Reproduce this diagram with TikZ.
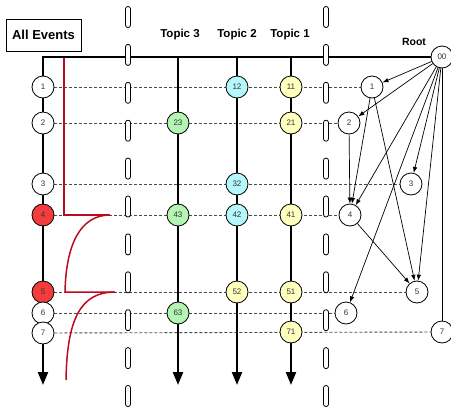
\documentclass[tikz,border=0pt]{standalone}
\usepackage{fontspec}
\setmainfont{Liberation Sans}
\usetikzlibrary{arrows.meta,backgrounds}
\definecolor{nred}{RGB}{245,60,60}
\definecolor{ncyan}{RGB}{180,248,252}
\definecolor{nyel}{RGB}{255,255,190}
\definecolor{ngreen}{RGB}{180,245,180}
\definecolor{redline}{RGB}{190,10,30}
\definecolor{dashgray}{RGB}{75,75,75}
\begin{document}
\begin{tikzpicture}[x=1pt,y=-1pt,
  ev/.style={circle,draw=black,line width=0.8pt,fill=white,minimum size=22pt,inner sep=0pt,
             font=\fontsize{8}{9}\selectfont,text=black!80},
  redev/.style={ev,fill=nred},
  cyev/.style={ev,fill=ncyan},
  yev/.style={ev,fill=nyel},
  gev/.style={ev,fill=ngreen},
  thickl/.style={line width=2.3pt,line join=miter},
  tarrow/.style={thickl,-{Triangle[length=13pt,width=10pt]}},
  rowline/.style={draw=dashgray,line width=0.9pt,dash pattern=on 3pt off 2pt},
  edge/.style={line width=0.7pt,-{Latex[length=6pt,width=4.5pt]}},
  plainedge/.style={line width=0.7pt},
  pill/.style={rectangle,rounded corners=2.4pt,draw=black,line width=0.8pt,fill=white,
               minimum width=5pt,minimum height=21pt,inner sep=0pt},
  lbl/.style={font=\bfseries\fontsize{11.5}{13}\selectfont},
  redl/.style={draw=redline,line width=1.5pt}
]
\useasboundingbox (0,0) rectangle (451,408);

% labels
\node[draw=black,line width=0.9pt,minimum width=75pt,minimum height=32pt,inner sep=0pt,
      font=\bfseries\fontsize{13}{15}\selectfont] (allev) at (43.5,35) {All Events};
\node[lbl] (lt3) at (180,35) {Topic 3};
\node[lbl] (lt2) at (237,35) {Topic 2};
\node[lbl] (lt1) at (290,35) {Topic 1};
\node[font=\bfseries\fontsize{10.5}{12}\selectfont] (lroot) at (414,42) {Root};

% coordinates
\coordinate (corner) at (43,57);
\coordinate (lend) at (43,385);
\coordinate (t3top) at (178,57);
\coordinate (t3end) at (178,385);
\coordinate (t2top) at (237,57);
\coordinate (t2end) at (237,385);
\coordinate (t1top) at (291,57);
\coordinate (t1end) at (291,385);

% right graph nodes
\node[ev] (root) at (442,57) {00};
\node[ev] (r1) at (372,87) {1};
\node[ev] (r2) at (349,123) {2};
\node[ev] (r3) at (411,184) {3};
\node[ev] (r4) at (350,215) {4};
\node[ev] (r5) at (417,292) {5};
\node[ev] (r6) at (346,313) {6};
\node[ev] (r7) at (442,332) {7};

% left nodes
\node[ev] (n1) at (43,87) {1};
\node[ev] (n2) at (43,123) {2};
\node[ev] (n3) at (43,184) {3};
\node[redev] (n4) at (43,215) {4};
\node[redev] (n5) at (43,292) {5};
\node[ev] (n6) at (43,313) {6};
\node[ev] (n7) at (43,333) {7};

% topic nodes
\node[cyev] (e12) at (237,87) {12};
\node[yev] (e11) at (291,87) {11};
\node[gev] (e23) at (178,123) {23};
\node[yev] (e21) at (291,123) {21};
\node[cyev] (e32) at (237,184) {32};
\node[gev] (e43) at (178,215) {43};
\node[cyev] (e42) at (237,215) {42};
\node[yev] (e41) at (291,215) {41};
\node[yev] (e52) at (237,292) {52};
\node[yev] (e51) at (291,292) {51};
\node[gev] (e63) at (178,313) {63};
\node[yev] (e71) at (291,332) {71};

\begin{scope}[on background layer]
% dashed rows
\draw[rowline] (n1) -- (r1);
\draw[rowline] (n2) -- (r2);
\draw[rowline] (n3) -- (r3);
\draw[rowline] (n4) -- (r4);
\draw[rowline] (n5) -- (r5);
\draw[rowline] (n6) -- (r6);
\draw[rowline] (n7) -- (r7);
% red lines
\draw[redl] (64,57) -- (64,215) -- (110,215);
\draw[redl] (110,215) .. controls (80,215) and (66,245) .. (65,292) -- (115,292);
\draw[redl] (115,292) .. controls (80,292) and (67,320) .. (66,380);
% thick lines
\draw[tarrow] (root) -- (corner) -- (lend);
\draw[tarrow] (t3top) -- (t3end);
\draw[tarrow] (t2top) -- (t2end);
\draw[tarrow] (t1top) -- (t1end);
\end{scope}

% right graph edges
\draw[edge] (root) -- (r1);
\draw[edge] (root) -- (r2);
\draw[edge] (root) -- (r3);
\draw[edge] (root) -- (r4);
\draw[edge] (root) -- (r5);
\draw[edge] (root) -- (r6);
\draw[plainedge] (root) -- (r7);
\draw[edge] (r1) -- (r4);
\draw[edge] (r1) -- (r5);
\draw[edge] (r2) -- (r4);
\draw[edge] (r4) -- (r5);

% barriers
\foreach \i in {0,...,10} {
  \pgfmathsetmacro\yy{17+37.9*\i}
  \node[pill] (pa\i) at (128,\yy) {};
  \node[pill] (pb\i) at (326,\yy) {};
}
\end{tikzpicture}
\end{document}
